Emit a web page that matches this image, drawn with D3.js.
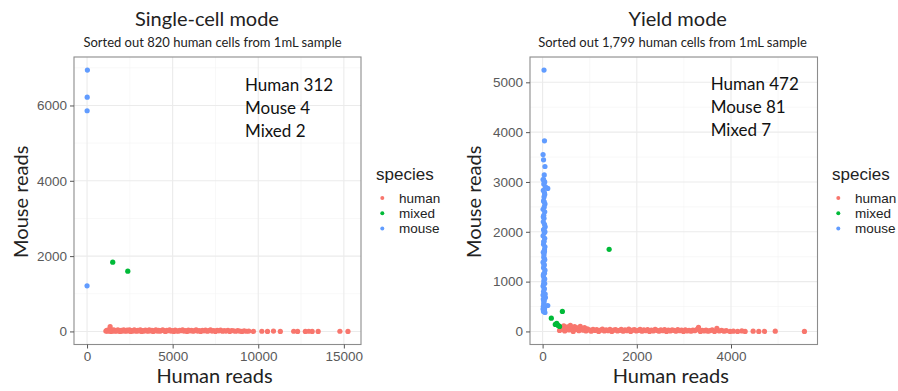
<!DOCTYPE html>
<html>
<head>
<meta charset="utf-8">
<script src="https://cdn.jsdelivr.net/npm/d3@7"></script>
<style>
  body { margin: 0; background: #fff; }
  svg { display: block; }
</style>
</head>
<body>
<div id="container"></div>
<script>
// ---- data ----
const species = ['human', 'mixed', 'mouse'];
const speciesColors = ['#F8766D', '#00BA38', '#619CFF'];

// Single-cell mode, [human reads, mouse reads]
const singleHuman = [
  [1100,10],[1150,30],[1200,5],[1260,40],[1350,125],[1320,20],[1400,0],[1450,35],[1500,15],[1560,45],
  [1620,5],[1680,25],[1740,10],[1800,40],[1870,20],[1930,0],[2000,30],[2070,10],[2140,45],[2200,20],
  [2270,5],[2340,35],[2410,15],[2480,40],[2550,0],[2620,25],[2690,10],[2760,45],[2830,20],[2900,5],
  [2970,30],[3040,15],[3110,40],[3190,0],[3260,25],[3330,10],[3410,35],[3480,20],[3560,5],[3630,40],
  [3710,15],[3790,30],[3860,0],[3940,20],[4020,40],[4100,10],[4180,30],[4260,5],[4340,25],[4420,40],
  [4500,15],[4580,0],[4660,30],[4740,20],[4820,40],[4900,10],[4990,25],[5070,0],[5150,35],[5240,15],
  [5320,5],[5410,30],[5490,20],[5580,40],[5660,10],[5750,25],[5840,0],[5920,35],[6010,15],[6100,30],
  [6190,5],[6280,20],[6370,40],[6460,10],[6550,25],[6640,0],[6740,30],[6830,15],[6920,35],[7020,5],
  [7110,20],[7210,40],[7300,10],[7400,25],[7500,0],[7600,30],[7700,15],[7800,35],[7910,5],[8010,20],
  [8120,10],[8230,30],[8340,0],[8450,25],[8560,15],[8680,5],[8800,20],[8920,10],[9050,0],[9180,15],
  [9320,5],[9450,10],[9720,0],[10210,5],[10540,0],[10890,10],[11290,0],[12070,5],[12300,0],[12750,0],
  [12950,5],[13150,0],[13500,0],[14770,5],[15240,0]
];
const singleMixed = [[1500,1840],[2380,1600]];
const singleMouse = [[20,6940],[10,6220],[5,5860],[0,1210]];
const singleXTicks = [0, 5000, 10000, 15000];
const singleYTicks = [0, 2000, 4000, 6000];
const singleCounts = ['Human 312', 'Mouse 4', 'Mixed 2'];

// Yield mode
const yieldHuman = [
  [360,20],[390,80],[420,40],[450,110],[470,10],[500,60],[530,90],[560,30],[590,120],[620,50],
  [650,0],[680,95],[710,40],[740,70],[770,15],[800,100],[830,45],[860,25],[890,75],[920,10],
  [950,50],[990,30],[1030,5],[1070,40],[1110,20],[1150,35],[1190,0],[1230,25],[1270,45],[1310,10],
  [1350,30],[1390,15],[1430,40],[1470,0],[1510,25],[1550,35],[1590,10],[1630,20],[1670,40],[1710,5],
  [1750,30],[1790,15],[1830,45],[1870,0],[1910,25],[1950,35],[1990,10],[2030,20],[2070,40],[2110,5],
  [2150,30],[2190,15],[2230,35],[2270,0],[2310,25],[2350,10],[2390,40],[2430,20],[2470,5],[2510,30],
  [2550,15],[2590,35],[2630,0],[2670,25],[2710,10],[2750,30],[2790,20],[2830,5],[2870,35],[2910,15],
  [2950,25],[2990,0],[3030,30],[3070,10],[3110,20],[3150,5],[3190,25],[3230,15],[3270,35],[3310,80],
  [3350,0],[3390,20],[3430,10],[3470,25],[3510,5],[3550,15],[3600,30],[3650,0],[3700,60],[3750,10],
  [3800,20],[3850,5],[3900,15],[3980,0],[4050,5],[4140,0],[4230,10],[4300,0],[4470,5],[4590,0],
  [4710,0],[4940,5],[5559,0]
];
const yieldMixed = [[185,267],[420,402],[1413,1648],[270,140],[300,160],[330,120],[360,100]];
const yieldMouse = [
  [30,5246],[40,3826],[20,3444],[50,3310],[35,3142],[10,3050],[45,3000],[25,2960],[110,2870],[60,2900],
  [15,2830],[40,2780],[30,2700],[20,2620],[50,2560],[35,2500],[10,2450],[45,2400],[25,2330],[30,2270],
  [15,2200],[40,2150],[55,2100],[20,2040],[35,1980],[10,1920],[45,1870],[30,1810],[20,1750],[50,1700],
  [40,1640],[15,1590],[30,1540],[25,1490],[45,1440],[10,1390],[35,1330],[20,1280],[50,1230],[40,1170],
  [15,1120],[30,1070],[25,1010],[45,960],[10,910],[35,860],[20,800],[55,750],[40,700],[15,650],
  [30,600],[25,560],[110,520],[45,480],[10,450],[35,420],[20,400],[50,380],[40,440],[15,500],
  [30,540],[25,620],[60,680],[10,730],[35,850],[45,1050],[20,1150],[30,1350],[40,1600],[25,1800],
  [50,2000],[15,2300],[35,2600],[45,2750],[20,3050],[10,3550],[30,2050],[40,1450],[20,950],[35,640],
  [25,430]
];
const yieldXTicks = [0, 2000, 4000];
const yieldYTicks = [0, 1000, 2000, 3000, 4000, 5000];
const yieldCounts = ['Human 472', 'Mouse 81', 'Mixed 7'];

// ---- drawing ----
const W = 898, H = 391;
const calibri = 'Lato, "Open Sans", sans-serif';
const arial = '"Liberation Sans", Arial, sans-serif';
const color = d3.scaleOrdinal().domain(species).range(speciesColors);

const svg = d3.select('#container').append('svg')
  .attr('width', W).attr('height', H);

// ggplot-style 5% expansion of the data range
function expanded(values) {
  const [lo, hi] = d3.extent(values);
  const pad = (hi - lo) * 0.05;
  return [lo - pad, hi + pad];
}

// midpoints between major breaks, plus one beyond each end if it fits
function minorBreaks(ticks, domain) {
  const step = ticks[1] - ticks[0];
  const out = [];
  for (let v = ticks[0] - step / 2; v <= domain[1]; v += step) {
    if (v >= domain[0]) out.push(v);
  }
  return out;
}

function drawPanel(cfg) {
  const { left, top, width, height } = cfg;
  const all = cfg.series.flatMap(s => s.points);
  const x = d3.scaleLinear().domain(expanded(all.map(d => d[0]))).range([left, left + width]);
  const y = d3.scaleLinear().domain(expanded(all.map(d => d[1]))).range([top + height, top]);

  const g = svg.append('g');

  // grid
  g.selectAll('.xminor').data(minorBreaks(cfg.xTicks, x.domain())).join('line')
    .attr('x1', d => x(d)).attr('x2', d => x(d)).attr('y1', top).attr('y2', top + height)
    .attr('stroke', '#f3f3f3').attr('stroke-width', 0.6);
  g.selectAll('.yminor').data(minorBreaks(cfg.yTicks, y.domain())).join('line')
    .attr('y1', d => y(d)).attr('y2', d => y(d)).attr('x1', left).attr('x2', left + width)
    .attr('stroke', '#f3f3f3').attr('stroke-width', 0.6);
  g.selectAll('.xmajor').data(cfg.xTicks).join('line')
    .attr('x1', d => x(d)).attr('x2', d => x(d)).attr('y1', top).attr('y2', top + height)
    .attr('stroke', '#ebebeb').attr('stroke-width', 1.1);
  g.selectAll('.ymajor').data(cfg.yTicks).join('line')
    .attr('y1', d => y(d)).attr('y2', d => y(d)).attr('x1', left).attr('x2', left + width)
    .attr('stroke', '#ebebeb').attr('stroke-width', 1.1);

  // points
  cfg.series.forEach(s => {
    g.append('g').selectAll('circle').data(s.points).join('circle')
      .attr('cx', d => x(d[0])).attr('cy', d => y(d[1])).attr('r', 2.6)
      .attr('fill', color(s.name));
  });

  // border
  g.append('rect').attr('x', left).attr('y', top).attr('width', width).attr('height', height)
    .attr('fill', 'none').attr('stroke', '#8c8c8c').attr('stroke-width', 1.1);

  // axes
  const xAxis = g.append('g').attr('transform', `translate(0,${top + height})`)
    .call(d3.axisBottom(x).tickValues(cfg.xTicks).tickSize(4).tickPadding(3).tickFormat(d3.format('d')));
  const yAxis = g.append('g').attr('transform', `translate(${left},0)`)
    .call(d3.axisLeft(y).tickValues(cfg.yTicks).tickSize(4).tickPadding(3).tickFormat(d3.format('d')));
  [xAxis, yAxis].forEach(a => {
    a.select('.domain').remove();
    a.selectAll('.tick line').attr('stroke', '#555');
    a.selectAll('.tick text').attr('fill', '#5a5a5a').style('font-family', arial).style('font-size', '13.5px');
  });

  // titles
  g.append('text').attr('x', cfg.titleX).attr('y', 26).attr('text-anchor', 'middle')
    .style('font-family', calibri).style('font-size', '20px').attr('fill', '#222').text(cfg.title);
  g.append('text').attr('x', cfg.subX).attr('y', 47).attr('text-anchor', 'middle')
    .style('font-family', calibri).style('font-size', '13px').attr('fill', '#222').text(cfg.subtitle);

  g.append('text').attr('x', left + width / 2 - 3).attr('y', 383).attr('text-anchor', 'middle')
    .style('font-family', calibri).style('font-size', '20px').attr('fill', '#222').text('Human reads');
  g.append('text').attr('transform', `translate(${cfg.yTitleX},${top + height / 2 + 1}) rotate(-90)`)
    .attr('text-anchor', 'middle')
    .style('font-family', calibri).style('font-size', '20px').attr('fill', '#222').text('Mouse reads');

  // counts annotation
  g.append('g').selectAll('text').data(cfg.counts).join('text')
    .attr('x', cfg.countX).attr('y', (d, i) => cfg.countY + i * 23)
    .style('font-family', calibri).style('font-size', '17px').attr('fill', '#111').text(d => d);

  // legend
  const lg = g.append('g').attr('transform', `translate(${cfg.legendX},0)`);
  lg.append('text').attr('x', 0).attr('y', 180).style('font-family', arial).style('font-size', '17px')
    .attr('fill', '#222').text('species');
  const items = lg.selectAll('.item').data(species).join('g')
    .attr('transform', (d, i) => `translate(0,${198 + i * 15.3})`);
  items.append('circle').attr('cx', 6.3).attr('cy', 0).attr('r', 2).attr('fill', d => color(d));
  items.append('text').attr('x', 23).attr('y', 4.8).style('font-family', arial).style('font-size', '13.5px')
    .attr('fill', '#222').text(d => d);
}

drawPanel({
  left: 74, top: 57, width: 287, height: 287.5,
  series: [
    { name: 'human', points: singleHuman },
    { name: 'mouse', points: singleMouse },
    { name: 'mixed', points: singleMixed }
  ],
  xTicks: singleXTicks, yTicks: singleYTicks,
  title: 'Single-cell mode', titleX: 207,
  subtitle: 'Sorted out 820 human cells from 1mL sample', subX: 212.5,
  yTitleX: 28, counts: singleCounts, countX: 245, countY: 91,
  legendX: 376
});

drawPanel({
  left: 530, top: 57, width: 287.5, height: 287.5,
  series: [
    { name: 'human', points: yieldHuman },
    { name: 'mouse', points: yieldMouse },
    { name: 'mixed', points: yieldMixed }
  ],
  xTicks: yieldXTicks, yTicks: yieldYTicks,
  title: 'Yield mode', titleX: 677.7,
  subtitle: 'Sorted out 1,799 human cells from 1mL sample', subX: 672.5,
  yTitleX: 481, counts: yieldCounts, countX: 710.7, countY: 89.5,
  legendX: 832
});
</script>
</body>
</html>
